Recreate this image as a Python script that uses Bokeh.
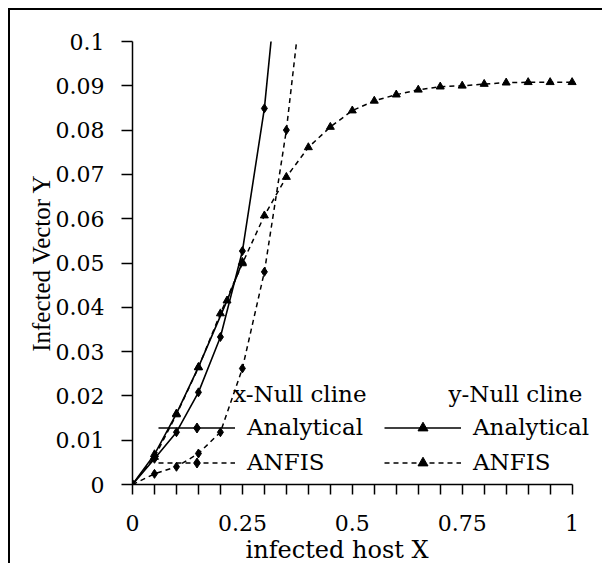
from bokeh.plotting import figure
from bokeh.models import Range1d, FixedTicker, Legend, LegendItem, Label, Title
from bokeh.embed import file_html
from bokeh.resources import INLINE

# ---- data ----
xnull_analytical_x = [0, 0.05, 0.1, 0.15, 0.2, 0.25, 0.3, 0.35]
xnull_analytical_y = [0, 0.0058, 0.0118, 0.0208, 0.0333, 0.0527, 0.0849, 0.135]

xnull_anfis_x = [0, 0.05, 0.1, 0.15, 0.2, 0.25, 0.3, 0.35, 0.4]
xnull_anfis_y = [0, 0.0024, 0.0040, 0.0070, 0.0118, 0.0262, 0.0480, 0.0800, 0.1230]

ynull_analytical_x = [0, 0.05, 0.1, 0.15, 0.215, 0.25]
ynull_analytical_y = [0, 0.0068, 0.0160, 0.0265, 0.0415, 0.0502]

ynull_anfis_x = [0, 0.05, 0.1, 0.15, 0.2, 0.25, 0.3, 0.35, 0.4, 0.45, 0.5,
                 0.55, 0.6, 0.65, 0.7, 0.75, 0.8, 0.85, 0.9, 0.95, 1.0]
ynull_anfis_y = [0, 0.0062, 0.0158, 0.0264, 0.0386, 0.0499, 0.0607, 0.0694,
                 0.0761, 0.0807, 0.0844, 0.0866, 0.0880, 0.0891, 0.0898,
                 0.0900, 0.0904, 0.0907, 0.0908, 0.0908, 0.0908]

x_ticks = [0, 0.25, 0.5, 0.75, 1]
x_tick_labels = ["0", "0.25", "0.5", "0.75", "1"]
x_minor_ticks = [0.05, 0.1, 0.15, 0.2, 0.3, 0.35, 0.4, 0.45, 0.55, 0.6, 0.65,
                 0.7, 0.8, 0.85, 0.9, 0.95]
y_ticks = [0, 0.01, 0.02, 0.03, 0.04, 0.05, 0.06, 0.07, 0.08, 0.09, 0.1]
y_tick_labels = ["0", "0.01", "0.02", "0.03", "0.04", "0.05", "0.06", "0.07",
                 "0.08", "0.09", "0.1"]

header_labels = ["x-Null cline", "y-Null cline"]
series_labels = ["Analytical", "ANFIS"]
x_title = "infected host X"
y_title = "Infected Vector Y"

FONT = "DejaVu Serif"

p = figure(frame_width=466, frame_height=443,
           x_range=Range1d(0, 1.06), y_range=Range1d(0, 0.1),
           output_backend="svg", toolbar_location=None,
           min_border_left=122, min_border_right=4, min_border_top=31,
           min_border_bottom=70)
p.styles = {"margin-left": "8px", "margin-top": "8px",
            "border-left": "2px solid black", "border-top": "2px solid black"}
p.outline_line_color = None
p.xgrid.visible = False
p.ygrid.visible = False
p.background_fill_color = "white"
p.border_fill_color = "white"

# axes
p.xaxis.ticker = FixedTicker(ticks=x_ticks, minor_ticks=x_minor_ticks)
p.xaxis.major_label_overrides = dict(zip(x_ticks, x_tick_labels))
p.xaxis.bounds = (0, 1)
p.yaxis.ticker = FixedTicker(ticks=y_ticks, minor_ticks=[])
p.yaxis.major_label_overrides = dict(zip(y_ticks, y_tick_labels))
for ax in (p.xaxis, p.yaxis):
    ax.axis_line_color = "black"
    ax.axis_line_width = 1.5
    ax.major_tick_line_color = "black"
    ax.major_tick_line_width = 1.5
    ax.minor_tick_line_color = "black"
    ax.minor_tick_line_width = 1.5
    ax.major_tick_in = 0
    ax.minor_tick_in = 0
    ax.major_label_text_font = FONT
    ax.major_label_text_font_size = "22px"
    ax.major_label_text_color = "black"
    ax.axis_label_text_font_style = "normal"
    ax.axis_label_text_color = "black"
p.xaxis.major_tick_out = 10
p.xaxis.minor_tick_out = 10
p.yaxis.major_tick_out = 11
p.xaxis.major_label_standoff = 20
p.yaxis.major_label_standoff = 17
p.yaxis.axis_label = y_title
p.yaxis.axis_label_text_font = "Liberation Serif"
p.yaxis.axis_label_text_font_size = "25px"
p.yaxis.axis_label_standoff = -2

p.add_layout(Title(text=x_title, align="left", offset=113, standoff=0,
                   text_font=FONT, text_font_size="24px",
                   text_font_style="normal", text_color="black"), "below")

DASH = "5 4"
# x-null cline analytical
l1 = p.line(xnull_analytical_x, xnull_analytical_y, line_color="black", line_width=1.6)
m1 = p.scatter(xnull_analytical_x, xnull_analytical_y, marker="diamond", size=9,
               fill_color="black", line_color="black")
# x-null cline ANFIS
l2 = p.line(xnull_anfis_x, xnull_anfis_y, line_color="black", line_width=1.5,
            line_dash=DASH)
m2 = p.scatter(xnull_anfis_x, xnull_anfis_y, marker="diamond", size=9,
               fill_color="black", line_color="black")
# y-null cline analytical
l3 = p.line(ynull_analytical_x, ynull_analytical_y, line_color="black", line_width=1.6)
m3 = p.scatter(ynull_analytical_x, ynull_analytical_y, marker="triangle", size=8,
               fill_color="black", line_color="black")
# y-null cline ANFIS
l4 = p.line(ynull_anfis_x, ynull_anfis_y, line_color="black", line_width=1.5,
            line_dash=DASH)
m4 = p.scatter(ynull_anfis_x, ynull_anfis_y, marker="triangle", size=8,
               fill_color="black", line_color="black")

legend = Legend(items=[
    LegendItem(label=series_labels[0], renderers=[l1, m1]),
    LegendItem(label=series_labels[1], renderers=[l2, m2]),
    LegendItem(label=series_labels[0], renderers=[l3, m3]),
    LegendItem(label=series_labels[1], renderers=[l4, m4]),
], ncols=2, location=(26, 9))
legend.background_fill_alpha = 0
legend.border_line_color = None
legend.padding = 0
legend.margin = 0
legend.spacing = 9
legend.glyph_width = 77
legend.glyph_height = 25
legend.label_height = 25
legend.label_width = 128
legend.label_standoff = 12
legend.label_text_font = FONT
legend.label_text_font_size = "23px"
legend.label_text_color = "black"
p.add_layout(legend, "center")

p.add_layout(Label(x=0.229, y=0.0205, text=header_labels[0], text_font=FONT,
                   text_font_size="23px", text_baseline="middle", text_color="black"))
p.add_layout(Label(x=0.719, y=0.0205, text=header_labels[1], text_font=FONT,
                   text_font_size="23px", text_baseline="middle", text_color="black"))

open("out.html", "w").write(file_html(p, INLINE))
